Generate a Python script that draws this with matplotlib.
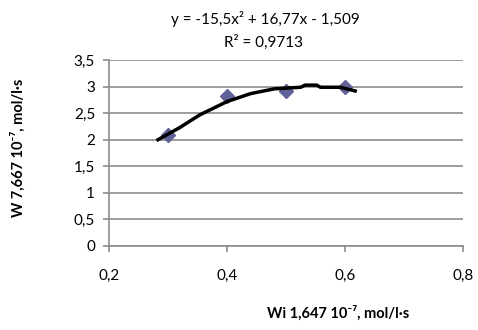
import matplotlib
matplotlib.use('Agg')
import matplotlib.pyplot as plt

# measured points
wi = [0.3, 0.4, 0.5, 0.6]
w = [2.09, 2.82, 2.91, 3.0]

# trend line as drawn
trend_x = [0.283, 0.32, 0.354, 0.40, 0.44, 0.48, 0.525, 0.532, 0.552, 0.558, 0.592, 0.617]
trend_y = [2.0, 2.23, 2.47, 2.72, 2.87, 2.96, 2.99, 3.03, 3.03, 2.99, 2.99, 2.92]

x_ticks = [0.2, 0.4, 0.6, 0.8]
x_labels = ['0,2', '0,4', '0,6', '0,8']
y_ticks = [0, 0.5, 1, 1.5, 2, 2.5, 3, 3.5]
y_labels = ['0', '0,5', '1', '1,5', '2', '2,5', '3', '3,5']

plt.rcParams['font.family'] = ['Lato', 'DejaVu Sans']
GRAY = '#8c8c8c'

fig = plt.figure(figsize=(4.78, 3.3), dpi=100)
ax = fig.add_axes([0.228, 0.2555, 0.741, 0.562])

ax.plot(wi, w, linestyle='none', marker='D', markersize=7,
        color='#62629a', zorder=3)
ax.plot(trend_x, trend_y, color='black', linewidth=2.5, zorder=4,
        solid_joinstyle='round')

ax.set_xlim(0.2, 0.8)
ax.set_ylim(0, 3.5)
ax.set_xticks(x_ticks)
ax.set_xticklabels(x_labels)
ax.set_yticks(y_ticks)
ax.set_yticklabels(y_labels)
ax.tick_params(axis='both', colors=GRAY, labelcolor='black', labelsize=11,
               length=4, width=1.2, direction='out')
ax.tick_params(axis='x', pad=13)
ax.tick_params(axis='y', pad=6)

ax.grid(axis='y', color=GRAY, linewidth=1.2)
ax.set_axisbelow(True)
for s in ['top', 'right']:
    ax.spines[s].set_visible(False)
for s in ['left', 'bottom']:
    ax.spines[s].set_color(GRAY)
    ax.spines[s].set_linewidth(1.2)

fig.text(265 / 478, 1 - 19 / 330, 'y = -15,5x² + 16,77x - 1,509',
         ha='center', va='center', fontsize=11)
fig.text(263 / 478, 1 - 42 / 330, 'R² = 0,9713',
         ha='center', va='center', fontsize=11)

fig.text(338 / 478, 1 - 313 / 330, 'Wi 1,647 10⁻⁷, mol/l·s',
         ha='center', va='center', fontsize=10.5, fontweight='bold')
fig.text(18 / 478, 1 - 148 / 330, 'W 7,667 10⁻⁷, mol/l·s',
         ha='center', va='center', fontsize=10.5, fontweight='bold',
         rotation=90)

plt.savefig('out.png', dpi=100)
plt.close(fig)
